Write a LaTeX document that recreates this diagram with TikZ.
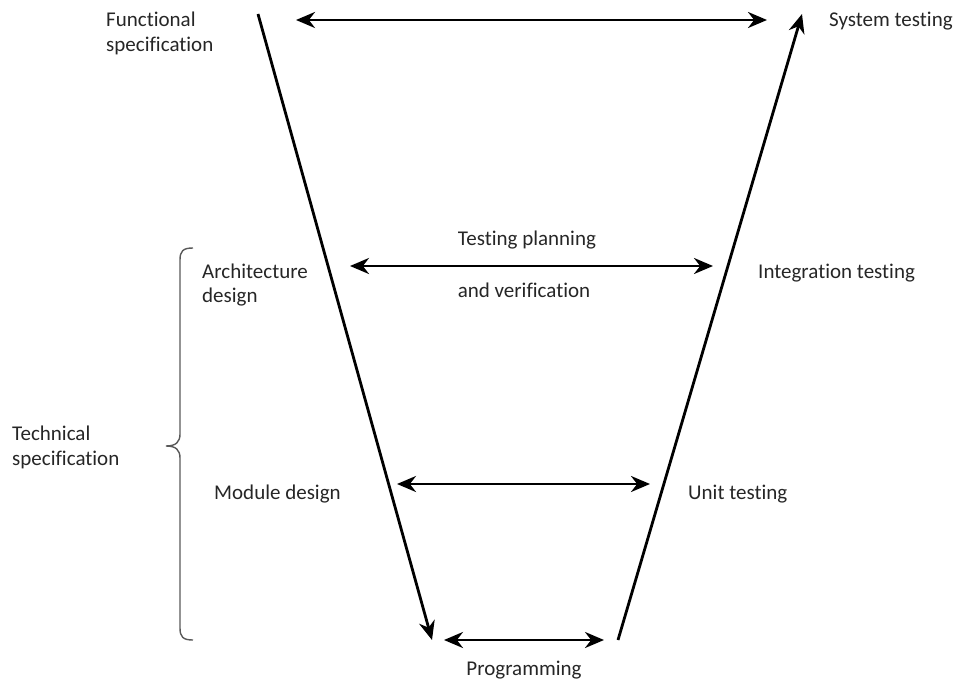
\documentclass[tikz,border=0pt]{standalone}
\usepackage{fontspec}
\setmainfont[Ligatures={NoCommon}]{Carlito}
\usetikzlibrary{arrows.meta}
\tikzset{
  lbl/.style={anchor=base west, inner sep=0pt, font=\fontsize{21}{25}\selectfont, text=black!85},
  clbl/.style={anchor=base, inner sep=0pt, font=\fontsize{21}{25}\selectfont, text=black!85},
  flow/.style={line width=2.8pt, -{Stealth[length=19pt,width=16pt]}},
  both/.style={line width=2.8pt, {Stealth[length=19pt,width=16pt]}-{Stealth[length=19pt,width=16pt]}},
  brace/.style={line width=1.4pt, draw=black!65}
}
\begin{document}
\begin{tikzpicture}[x=1pt,y=-1pt]
\useasboundingbox (0,0) rectangle (955,682);
% texts
\node[lbl] (func) at (106,27) {Functional};
\node[lbl] (func2) at (106,52) {specification};
\node[lbl] (sys) at (829,27) {System testing};
\node[clbl] (tp) at (527,245) {Testing planning};
\node[clbl] (tv) at (524,297) {and verification};
\node[lbl] (arch) at (202,278) {Architecture};
\node[lbl] (arch2) at (202,302) {design};
\node[lbl] (integ) at (758,278) {Integration testing};
\node[lbl] (tech) at (12,440) {Technical};
\node[lbl] (tech2) at (12,465) {specification};
\node[lbl] (mod) at (214,499) {Module design};
\node[lbl] (unit) at (688,499) {Unit testing};
\node[clbl] (prog) at (524,675) {Programming};
% coordinates
\coordinate (vlt) at (258,14);
\coordinate (vlb) at (432,640);
\coordinate (vrb) at (618,640);
\coordinate (vrt) at (802,14);
\coordinate (a1l) at (296,20);
\coordinate (a1r) at (767,20);
\coordinate (a2l) at (350,266);
\coordinate (a2r) at (713,266);
\coordinate (a3l) at (397,484);
\coordinate (a3r) at (650,484);
\coordinate (a4l) at (444,640);
\coordinate (a4r) at (604,640);
% V arrows
\draw[flow] (vlt) -- (vlb);
\draw[flow] (vrb) -- (vrt);
% double arrows
\draw[both] (a1l) -- (a1r);
\draw[both] (a2l) -- (a2r);
\draw[both] (a3l) -- (a3r);
\draw[both] (a4l) -- (a4r);
% brace
\coordinate (bt) at (193,248);
\coordinate (bb) at (193,640);
\coordinate (btip) at (166,446);
\draw[brace] (bt) .. controls (183,248) and (180,251) .. (180,260)
  -- (180,434) .. controls (180,442) and (176,446) .. (btip)
  (btip) .. controls (176,446) and (180,450) .. (180,458)
  -- (180,628) .. controls (180,637) and (183,640) .. (bb);
\end{tikzpicture}
\end{document}
